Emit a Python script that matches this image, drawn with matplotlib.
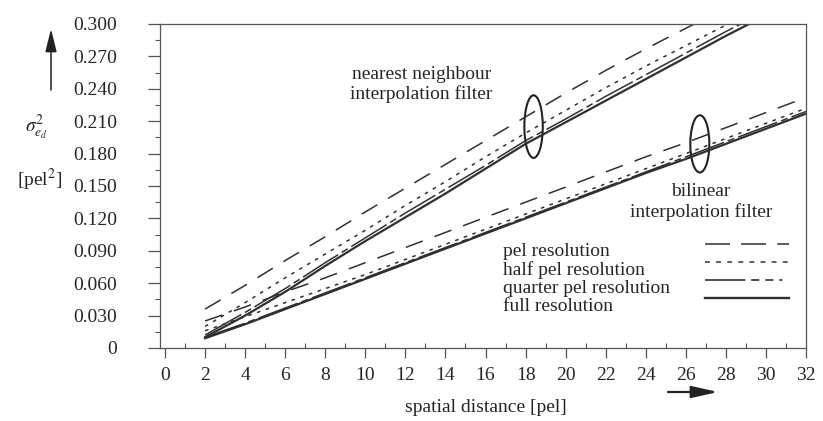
import matplotlib
matplotlib.use('Agg')
import matplotlib.pyplot as plt
from matplotlib.patches import Ellipse
from matplotlib.lines import Line2D
from matplotlib.ticker import MultipleLocator, FixedLocator, FixedFormatter

plt.rcParams['font.family'] = ['Liberation Serif', 'DejaVu Serif']
plt.rcParams['mathtext.fontset'] = 'stix'
plt.rcParams['lines.scale_dashes'] = False

# ---------------- data ----------------
distance = [2, 4, 6, 8, 10, 12, 14, 16, 18, 20, 22, 24, 26, 28, 30, 32]

# nearest neighbour interpolation filter
nn_pel     = [0.036, 0.058, 0.081, 0.103, 0.126, 0.148, 0.170, 0.192, 0.214, 0.236, 0.257, 0.277, 0.296, 0.315, 0.334, 0.352]
nn_half    = [0.020, 0.042, 0.065, 0.087, 0.109, 0.132, 0.154, 0.177, 0.199, 0.220, 0.241, 0.261, 0.280, 0.299, 0.318, 0.336]
nn_quarter = [0.012, 0.033, 0.055, 0.079, 0.102, 0.125, 0.147, 0.169, 0.192, 0.212, 0.233, 0.253, 0.273, 0.293, 0.312, 0.331]
nn_full    = [0.010, 0.030, 0.052, 0.076, 0.099, 0.121, 0.143, 0.166, 0.189, 0.209, 0.229, 0.249, 0.269, 0.289, 0.308, 0.327]

# bilinear interpolation filter
bl_pel     = [0.025, 0.038, 0.052, 0.065, 0.079, 0.093, 0.107, 0.121, 0.135, 0.149, 0.163, 0.177, 0.190, 0.204, 0.218, 0.232]
bl_half    = [0.016, 0.029, 0.042, 0.055, 0.068, 0.082, 0.096, 0.110, 0.124, 0.138, 0.152, 0.166, 0.180, 0.194, 0.208, 0.222]
bl_quarter = [0.010, 0.023, 0.037, 0.051, 0.065, 0.079, 0.093, 0.107, 0.121, 0.135, 0.149, 0.163, 0.177, 0.191, 0.205, 0.219]
bl_full    = [0.009, 0.022, 0.036, 0.050, 0.064, 0.078, 0.092, 0.106, 0.120, 0.134, 0.148, 0.162, 0.175, 0.189, 0.203, 0.217]

legend_labels = ['pel resolution', 'half pel resolution', 'quarter pel resolution', 'full resolution']
x_ticks = list(range(0, 33, 2))
y_ticks = [0, 0.03, 0.06, 0.09, 0.12, 0.15, 0.18, 0.21, 0.24, 0.27, 0.30]
y_tick_labels = ['0', '0.030', '0.060', '0.090', '0.120', '0.150', '0.180', '0.210', '0.240', '0.270', '0.300']

# ---------------- styles ----------------
INK = '#303030'
TXT = '#262626'
FS = 14
style_pel = dict(color=INK, lw=1.1, linestyle=(0, (13, 9)))
style_half = dict(color=INK, lw=1.1, linestyle=(0, (2.6, 4)))
style_quarter = dict(color=INK, lw=1.1, linestyle=(0, (30, 3, 5, 3)))
style_full = dict(color=INK, lw=1.6, linestyle='-')

W, H = 823, 421
fig = plt.figure(figsize=(W / 100, H / 100), dpi=100)
ax = fig.add_axes([160 / W, 1 - 348 / H, 646 / W, 324 / H])

for vals, st in [(nn_pel, style_pel), (nn_half, style_half), (nn_quarter, style_quarter), (nn_full, style_full),
                 (bl_pel, style_pel), (bl_half, style_half), (bl_quarter, style_quarter), (bl_full, style_full)]:
    ax.plot(distance, vals, **st)

ax.set_xlim(-0.25, 32)
ax.set_ylim(0, 0.300)

ax.xaxis.set_major_locator(FixedLocator(x_ticks))
ax.xaxis.set_minor_locator(MultipleLocator(1))
ax.yaxis.set_major_locator(FixedLocator(y_ticks))
ax.yaxis.set_major_formatter(FixedFormatter(y_tick_labels))
ax.yaxis.set_minor_locator(MultipleLocator(0.015))

for s in ax.spines.values():
    s.set_color('#555555')
    s.set_linewidth(0.9)

ax.tick_params(axis='y', which='major', direction='out', length=8.6, width=0.9, color='#555555',
               pad=22, labelsize=FS, labelcolor=TXT)
ax.tick_params(axis='y', which='minor', direction='out', length=3.6, width=0.8, color='#555555')
ax.tick_params(axis='x', which='major', direction='out', length=7, width=0.9, color='#555555',
               pad=6.5, labelsize=FS, labelcolor=TXT)
ax.tick_params(axis='x', which='minor', direction='in', length=3.6, width=0.8, color='#555555')

# axis labels
ax.set_xlabel('spatial distance [pel]', fontsize=FS, color=TXT)
ax.xaxis.label.set_va('center')
ax.xaxis.set_label_coords((486 - 160) / 646, (348 - 408) / 324)
ax.set_ylabel(r'$\sigma^2_{e_d}$', fontsize=FS, color=TXT, rotation=0)
ax.yaxis.label.set_va('center')
ax.yaxis.label.set_ha('center')
ax.yaxis.set_label_coords((36 - 160) / 646, (348 - 127) / 324)
fig.text(40 / W, 1 - 180 / H, '[pel$^2$]', fontsize=FS, color=TXT, ha='center', va='center')

# axis arrows
ax.annotate('', xy=(51 / W, 1 - 29 / H), xytext=(51 / W, 1 - 90 / H), xycoords='figure fraction',
            textcoords='figure fraction',
            arrowprops=dict(arrowstyle='-|>,head_length=1.4,head_width=0.35', color='#222222',
                            lw=1.1, mutation_scale=10, shrinkA=0, shrinkB=0))
ax.annotate('', xy=(718 / W, 1 - 392 / H), xytext=(668 / W, 1 - 392 / H), xycoords='figure fraction',
            textcoords='figure fraction',
            arrowprops=dict(arrowstyle='-|>,head_length=1.6,head_width=0.36', color='#222222',
                            lw=1.6, mutation_scale=10, shrinkA=0, shrinkB=0))

# group annotations
ax.text(12.8, 0.244, 'nearest neighbour\ninterpolation filter', ha='center', va='center',
        fontsize=FS, color=TXT, linespacing=1.2)
ax.text(26.75, 0.135, 'bilinear\ninterpolation filter', ha='center', va='center',
        fontsize=FS, color=TXT, linespacing=1.2)
ax.add_patch(Ellipse((18.4, 0.205), 0.92, 0.058, fill=False, ec='#222222', lw=1.5))
ax.add_patch(Ellipse((26.7, 0.189), 0.95, 0.053, fill=False, ec='#222222', lw=1.5))

# legend: text column and line column
text_handles = [Line2D([], [], linestyle='none') for _ in legend_labels]
leg_text = ax.legend(text_handles, legend_labels, loc='upper left',
                     bbox_to_anchor=((503 - 160) / 646, (348 - 242.5) / 324),
                     frameon=False, handlelength=0, handletextpad=0, borderpad=0,
                     borderaxespad=0, labelspacing=0.03, fontsize=FS, labelcolor=TXT)
ax.add_artist(leg_text)

leg_styles = [dict(color=INK, lw=1.1, linestyle=(0, (18, 8))),
              dict(color=INK, lw=1.1, linestyle=(0, (3.5, 4.5))),
              dict(color=INK, lw=1.2, linestyle=(0, (29, 4.3, 5.8, 4.3, 5.8, 4.3, 2.2, 12))),
              dict(color=INK, lw=1.7, linestyle='-')]
line_handles = [Line2D([], [], **s) for s in leg_styles]
ax.legend(line_handles, [' '] * 4, loc='upper left',
          bbox_to_anchor=((705 - 160) / 646, (348 - 237) / 324),
          frameon=False, handlelength=84 / 19.44, handletextpad=0, borderpad=0,
          borderaxespad=0, labelspacing=0.03, fontsize=FS)

fig.savefig('out.png', dpi=100)
